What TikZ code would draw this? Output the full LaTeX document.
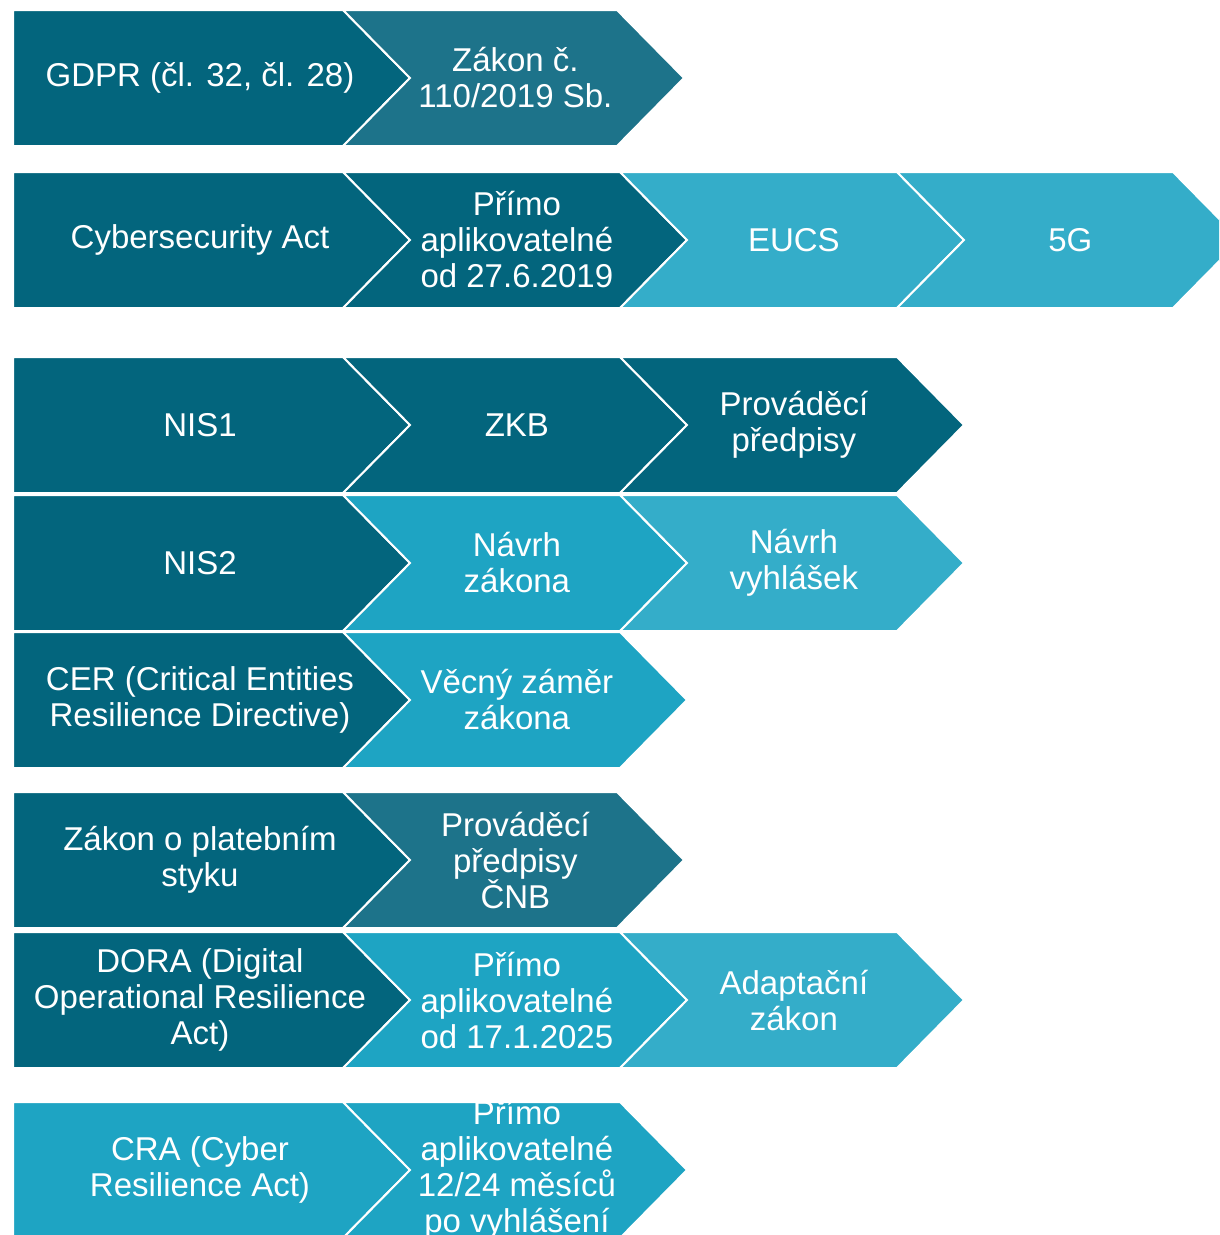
\documentclass[tikz,border=0pt]{standalone}
\usepackage{fontspec}
\setmainfont{Liberation Sans}

\definecolor{tealdark}{RGB}{3,101,125}
\definecolor{tealmid}{RGB}{29,115,138}
\definecolor{tealbright}{RGB}{30,164,195}
\definecolor{teallight}{RGB}{52,173,201}

\tikzset{
  chevron edge/.style={draw=white, line width=2pt, line join=miter},
  chevron text/.style={text=white, align=center, inner sep=0pt,
    font=\fontsize{33}{36}\selectfont},
}

% name, left x, right x, top y, notch, colour, text
\newcommand\chev[7]{%
  \filldraw[chevron edge, fill=#6] (#2,#4) -- (#3,#4) -- (#3+67,#4+68)
    -- (#3,#4+136) -- (#2,#4+136) -- (#2+#5,#4+68) -- cycle;
  \node[chevron text] (#1) at ({(#2+#3)/2+22+0.2*#5},#4+68) {#7};
}

\begin{document}
\begin{tikzpicture}[x=1pt,y=-1pt]
\useasboundingbox (0,0) rectangle (1219,1235);
\clip (0,0) rectangle (1219,1235);

\chev{gdpr}{13}{343}{10}{0}{tealdark}{GDPR (čl. 32, čl. 28)}
\chev{zakon}{343}{617}{10}{67}{tealmid}{Zákon č.\\110/2019 Sb.}

\chev{csa}{13}{343}{172}{0}{tealdark}{Cybersecurity Act}
\chev{csaprimo}{343}{620}{172}{67}{tealdark}{Přímo\\aplikovatelné\\od 27.6.2019}
\chev{eucs}{620}{897}{172}{67}{teallight}{EUCS}
\chev{fiveg}{897}{1173}{172}{67}{teallight}{5G}

\chev{nisone}{13}{343}{357}{0}{tealdark}{NIS1}
\chev{zkb}{343}{620}{357}{67}{tealdark}{ZKB}
\chev{zkbprov}{620}{897}{357}{67}{tealdark}{Prováděcí\\předpisy}

\chev{nistwo}{13}{343}{495}{0}{tealdark}{NIS2}
\chev{nisnavrh}{343}{620}{495}{67}{tealbright}{Návrh\\zákona}
\chev{nisvyhl}{620}{897}{495}{67}{teallight}{Návrh\\vyhlášek}

\chev{cer}{13}{343}{632}{0}{tealdark}{CER (Critical Entities\\Resilience Directive)}
\chev{cerzamer}{343}{620}{632}{67}{tealbright}{Věcný záměr\\zákona}

\chev{platebni}{13}{343}{792}{0}{tealdark}{Zákon o platebním\\styku}
\chev{cnb}{343}{617}{792}{67}{tealmid}{Prováděcí\\předpisy\\ČNB}

\chev{dora}{13}{343}{932}{0}{tealdark}{DORA (Digital\\Operational Resilience\\Act)}
\chev{doraprimo}{343}{620}{932}{67}{tealbright}{Přímo\\aplikovatelné\\od 17.1.2025}
\chev{adapt}{620}{897}{932}{67}{teallight}{Adaptační\\zákon}

\chev{cra}{13}{343}{1102}{0}{tealbright}{CRA (Cyber\\Resilience Act)}
\chev{craprimo}{343}{620}{1102}{67}{tealbright}{Přímo\\aplikovatelné\\12/24 měsíců\\po vyhlášení}
\end{tikzpicture}
\end{document}
